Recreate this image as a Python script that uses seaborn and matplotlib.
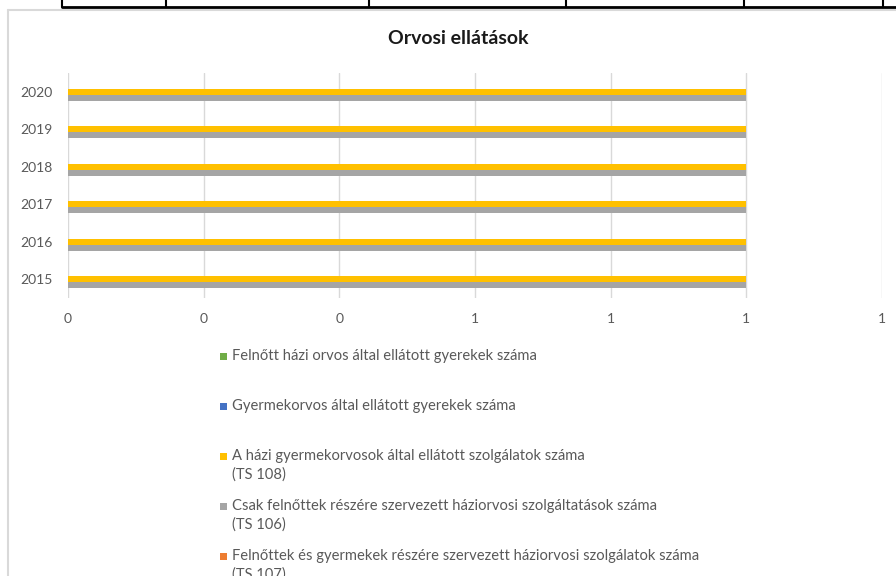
import matplotlib
matplotlib.use("Agg")
import matplotlib.pyplot as plt
from matplotlib.patches import Rectangle
from matplotlib.lines import Line2D
import numpy as np
import pandas as pd
import seaborn as sns

# ---- data ----
years = ["2020", "2019", "2018", "2017", "2016", "2015"]
series_names = [
    "Felnőtt házi orvos által ellátott gyerekek száma",
    "Gyermekorvos által ellátott gyerekek száma",
    "A házi gyermekorvosok által ellátott szolgálatok száma\n(TS 108)",
    "Csak felnőttek részére szervezett háziorvosi szolgáltatások száma\n(TS 106)",
    "Felnőttek és gyermekek részére szervezett háziorvosi szolgálatok száma\n(TS 107)",
]
felnott_hazi = [0, 0, 0, 0, 0, 0]
gyermekorvos = [0, 0, 0, 0, 0, 0]
ts108 = [1, 1, 1, 1, 1, 1]
ts106 = [1, 1, 1, 1, 1, 1]
ts107 = [0, 0, 0, 0, 0, 0]
series_values = [felnott_hazi, gyermekorvos, ts108, ts106, ts107]
series_colors = ["#70AD47", "#4472C4", "#FFC000", "#A5A5A5", "#ED7D31"]
x_ticks = [0, 0.2, 0.4, 0.6, 0.8, 1.0, 1.2]
x_tick_labels = ["0", "0", "0", "1", "1", "1", "1"]
title = "Orvosi ellátások"

df = pd.DataFrame(
    [(y, s, v) for s, vals in zip(series_names, series_values) for y, v in zip(years, vals)],
    columns=["year", "series", "value"],
)

sns.set_theme(style="white")
plt.rcParams["font.family"] = ["Lato", "DejaVu Sans"]

W, H = 896, 576
fig = plt.figure(figsize=(W / 100, H / 100), dpi=100)
ax = fig.add_axes([68 / W, 1 - 298 / H, (882 - 68) / W, (298 - 73) / H])

sns.barplot(
    data=df, y="year", x="value", hue="series", order=years, hue_order=series_names,
    palette=dict(zip(series_names, series_colors)), orient="h", width=0.78,
    ax=ax, legend=False, errorbar=None, saturation=1, linewidth=0, edgecolor="none",
)

ax.set_xlim(0, 1.2)
ax.set_xticks(x_ticks)
ax.set_xticklabels(x_tick_labels)
ax.set_xlabel("")
ax.set_ylabel("")
for s in ax.spines.values():
    s.set_visible(False)
ax.grid(axis="x", color="#D9D9D9", linewidth=1.0)
ax.grid(axis="y", visible=False)
ax.set_axisbelow(True)
ax.tick_params(axis="both", length=0, colors="#595959", labelsize=10)
ax.tick_params(axis="x", pad=11)
ax.tick_params(axis="y", pad=11)

# title
fig.text(458 / W, 1 - 39 / H, title, ha="center", va="center", fontsize=14,
         fontweight="bold", color="#1a1a1a")

# legend (manual, Excel-like vertical list)
for i, (name, col) in enumerate(zip(series_names, series_colors)):
    yc = 356 + 50 * i
    fig.add_artist(Rectangle((220 / W, 1 - (yc + 3.5) / H), 7 / W, 7 / H,
                             transform=fig.transFigure, color=col, lw=0))
    fig.text(232 / W, 1 - (yc - 7) / H, name, ha="left", va="top", fontsize=10.6,
             color="#595959", linespacing=1.42)

# chart border and table lines above
fig.add_artist(Line2D([8 / W, 8 / W], [0, 1 - 10 / H], transform=fig.transFigure,
                      color="#D9D9D9", lw=1.5))
fig.add_artist(Line2D([8 / W, 1], [1 - 10 / H, 1 - 10 / H], transform=fig.transFigure,
                      color="#D9D9D9", lw=1.5))
fig.add_artist(Line2D([62 / W, 1], [1 - 7 / H, 1 - 7 / H], transform=fig.transFigure,
                      color="black", lw=2))
for xv in [62, 166, 369, 566, 744, 883]:
    fig.add_artist(Line2D([xv / W, xv / W], [1 - 7 / H, 1], transform=fig.transFigure,
                          color="black", lw=1.5))

fig.savefig("out.png", dpi=100)
